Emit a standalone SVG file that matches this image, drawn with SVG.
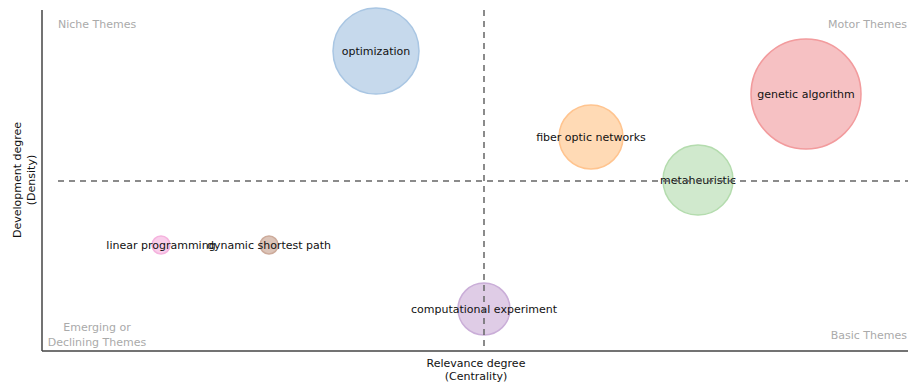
<svg xmlns="http://www.w3.org/2000/svg" width="908" height="383" viewBox="0 0 908 383">
<style>
text{font-family:"DejaVu Sans",Verdana,sans-serif;font-size:11px;}
.lbl{fill:#111;text-anchor:middle;}
.q{fill:#aaa;}
.ax{fill:#111;text-anchor:middle;}
.axis{stroke:#444;stroke-width:1.5;fill:none;}
.dash{stroke:#666;stroke-width:1.5;stroke-dasharray:6 5;fill:none;}
</style>
<rect width="908" height="383" fill="#fff"/>
<g id="axes">
<line class="axis" x1="42" y1="10" x2="42" y2="351"/>
<line class="axis" x1="42" y1="351" x2="908" y2="351"/>
</g>
<g id="quadrant-labels">
<text class="q" x="58" y="28">Niche Themes</text>
<text class="q" x="907" y="28" text-anchor="end">Motor Themes</text>
<text class="q" x="907" y="339" text-anchor="end">Basic Themes</text>
<text class="q" x="97" y="331" text-anchor="middle">Emerging or</text>
<text class="q" x="97" y="346" text-anchor="middle">Declining Themes</text>
</g>
<g id="node-optimization">
<circle cx="376" cy="51" r="43" fill="#c6d9ec" stroke="#a9c6e3" stroke-width="1.5"/>
<text class="lbl" x="376" y="55">optimization</text>
</g>
<g id="node-genetic-algorithm">
<circle cx="806" cy="94" r="55" fill="#f6c1c3" stroke="#f29b9d" stroke-width="1.5"/>
<text class="lbl" x="806" y="98">genetic algorithm</text>
</g>
<g id="node-fiber-optic-networks">
<circle cx="591" cy="137" r="32" fill="#ffdab5" stroke="#ffc48f" stroke-width="1.5"/>
<text class="lbl" x="591" y="141">fiber optic networks</text>
</g>
<g id="node-metaheuristic">
<circle cx="698" cy="180" r="35" fill="#d0e9cd" stroke="#b4dcae" stroke-width="1.5"/>
<text class="lbl" x="698" y="184">metaheuristic</text>
</g>
<g id="node-computational-experiment">
<circle cx="484" cy="309" r="26" fill="#dfcce6" stroke="#caaed8" stroke-width="1.5"/>
<text class="lbl" x="484" y="313">computational experiment</text>
</g>
<g id="node-linear-programming">
<circle cx="161" cy="245" r="9" fill="#f9cdea" stroke="#f5b3de" stroke-width="1.5"/>
<text class="lbl" x="161" y="249">linear programming</text>
</g>
<g id="node-dynamic-shortest-path">
<circle cx="269" cy="245" r="9" fill="#dcc4b8" stroke="#cdab9b" stroke-width="1.5"/>
<text class="lbl" x="269" y="249">dynamic shortest path</text>
</g>
<g id="connectors">
<line class="dash" x1="484" y1="10" x2="484" y2="351"/>
<line class="dash" x1="58" y1="181" x2="908" y2="181"/>
</g>
<g id="axis-titles">
<text class="ax" x="476" y="367">Relevance degree</text>
<text class="ax" x="476" y="380">(Centrality)</text>
<text class="ax" transform="translate(21,180) rotate(-90)">Development degree</text>
<text class="ax" transform="translate(35,180) rotate(-90)">(Density)</text>
</g>
</svg>
